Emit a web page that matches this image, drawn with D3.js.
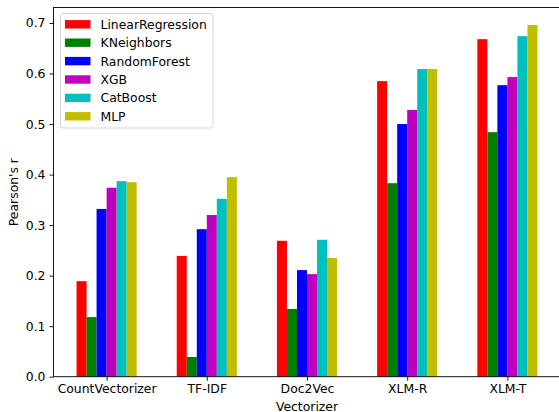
<!DOCTYPE html>
<html>
<head>
<meta charset="utf-8">
<script src="https://cdn.jsdelivr.net/npm/d3@7"></script>
<style>
  body { margin: 0; background: #fff; }
  svg { display: block; font-family: "DejaVu Sans", sans-serif; }
</style>
</head>
<body>
<svg id="chart"></svg>
<script>
const vectorizers = ["CountVectorizer", "TF-IDF", "Doc2Vec", "XLM-R", "XLM-T"];
const models = ["LinearRegression", "KNeighbors", "RandomForest", "XGB", "CatBoost", "MLP"];
const colors = ["#ff0000", "#008000", "#0000ff", "#bf00bf", "#00bfbf", "#bfbf00"];

const linearRegression = [0.189, 0.239, 0.269, 0.585, 0.668];
const kNeighbors = [0.118, 0.039, 0.134, 0.383, 0.484];
const randomForest = [0.332, 0.292, 0.211, 0.500, 0.577];
const xgb = [0.374, 0.320, 0.203, 0.528, 0.593];
const catBoost = [0.387, 0.352, 0.271, 0.609, 0.674];
const mlp = [0.385, 0.395, 0.235, 0.609, 0.696];
const series = [linearRegression, kNeighbors, randomForest, xgb, catBoost, mlp];

const yTicks = [0, 0.1, 0.2, 0.3, 0.4, 0.5, 0.6, 0.7];

const width = 559, height = 412;
const plotLeft = 53.5, plotRight = 560.5, plotTop = 7.5, plotBottom = 376.7;
const barW = 0.1;
const fs = 12.4;

const svg = d3.select("#chart").attr("width", width).attr("height", height);

const x = d3.scaleLinear().domain([-0.53, 4.53]).range([plotLeft, plotRight]);
const y = d3.scaleLinear().domain([0, 0.7307]).range([plotBottom, plotTop]);

// Bars
series.forEach((vals, j) => {
  svg
    .append("g")
    .selectAll("rect")
    .data(vals)
    .join("rect")
    .attr("x", (d, i) => x(i + (j - 3) * barW))
    .attr("width", (d, i) => x(i + (j - 2) * barW) - x(i + (j - 3) * barW))
    .attr("y", (d) => y(d))
    .attr("height", (d) => y(0) - y(d))
    .attr("fill", colors[j]);
});

// Axes
const xAxis = d3
  .axisBottom(x)
  .tickValues(d3.range(vectorizers.length))
  .tickFormat((i) => vectorizers[i])
  .tickSize(4)
  .tickPadding(4);
const yAxis = d3
  .axisLeft(y)
  .tickValues(yTicks)
  .tickFormat(d3.format(".1f"))
  .tickSize(4)
  .tickPadding(4);

const gx = svg.append("g").attr("transform", `translate(0,${plotBottom})`).call(xAxis);
const gy = svg.append("g").attr("transform", `translate(${plotLeft},0)`).call(yAxis);
[gx, gy].forEach((g) => {
  g.select(".domain").remove();
  g.selectAll("text").attr("font-size", fs).attr("fill", "#000").attr("font-family", "DejaVu Sans");
  g.selectAll("line").attr("stroke", "#000").attr("stroke-width", 0.9);
});

// Spines
svg
  .append("rect")
  .attr("x", plotLeft)
  .attr("y", plotTop)
  .attr("width", plotRight - plotLeft)
  .attr("height", plotBottom - plotTop)
  .attr("fill", "none")
  .attr("stroke", "#000")
  .attr("stroke-width", 0.9);

// Axis labels
svg
  .append("text")
  .attr("x", (plotLeft + plotRight) / 2)
  .attr("y", 410.5)
  .attr("text-anchor", "middle")
  .attr("font-size", fs)
  .text("Vectorizer");

svg
  .append("text")
  .attr("transform", `translate(18,${(plotTop + plotBottom) / 2}) rotate(-90)`)
  .attr("text-anchor", "middle")
  .attr("font-size", fs)
  .text("Pearson's r");

// Legend
const legend = svg.append("g");
legend
  .append("rect")
  .attr("x", 60.5)
  .attr("y", 13.5)
  .attr("width", 152.5)
  .attr("height", 114.5)
  .attr("rx", 2.5)
  .attr("fill", "#fff")
  .attr("fill-opacity", 0.8)
  .attr("stroke", "#d5d5d5");

models.forEach((m, j) => {
  const cy = 24.3 + j * 18.4;
  legend
    .append("rect")
    .attr("x", 65)
    .attr("y", cy - 4.2)
    .attr("width", 25.5)
    .attr("height", 8.4)
    .attr("fill", colors[j]);
  legend
    .append("text")
    .attr("x", 100.5)
    .attr("y", cy + 4.4)
    .attr("font-size", fs)
    .text(m);
});
</script>
</body>
</html>
